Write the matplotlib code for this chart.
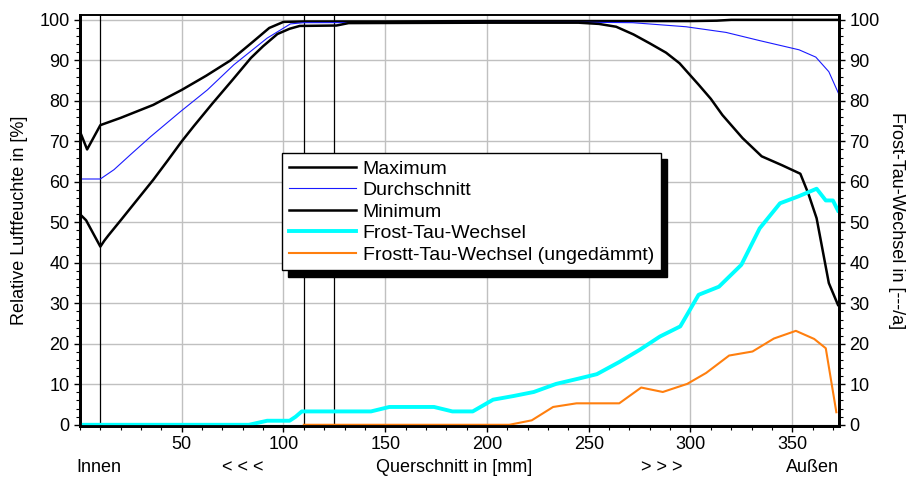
import matplotlib
matplotlib.use('Agg')
import matplotlib.pyplot as plt
from matplotlib.ticker import MultipleLocator

plt.rcParams['font.family'] = ['Liberation Sans', 'DejaVu Sans']

# Relative Luftfeuchte (linke Achse)
x_max = [0, 3.5, 10, 20, 36, 50, 62, 74, 85, 93, 100, 110, 150, 200, 250, 300, 313, 320, 373]
v_max = [72.4, 68, 74, 75.8, 79, 82.7, 86.2, 90, 94.6, 98, 99.5, 99.6, 99.6, 99.7, 99.7, 99.7, 99.8, 100, 100]

x_avg = [0, 10, 16.7, 25, 34.8, 49.5, 62.6, 75.6, 92, 103.4, 110, 250, 271.6, 297.8, 317.5,
         333.8, 353.4, 361.6, 368, 372.7]
v_avg = [60.7, 60.7, 63, 66.8, 71.2, 77.4, 82.7, 88.9, 95.5, 99, 99.3, 99.4, 99.3, 98.3, 96.9,
         94.9, 92.6, 90.8, 87.2, 81.9]

x_min = [0, 3, 10, 12, 14, 20, 28, 36, 43, 50, 56, 65, 75, 84, 90, 97, 103, 108, 126, 132, 200,
         245, 255, 263.5, 272, 280, 288, 294.6, 304, 310, 315.7, 325.6, 335, 345, 354, 358, 362,
         368, 372.5]
v_min = [52, 50.5, 44, 45.5, 46.8, 50.5, 55.5, 60.5, 65.2, 70, 73.8, 79.3, 85.2, 90.6, 93.5, 96.5,
         97.8, 98.5, 98.6, 99.2, 99.3, 99.3, 99.0, 98.3, 96.4, 94.2, 91.9, 89.3, 84, 80.5, 76.5,
         70.8, 66.3, 64.1, 62, 57, 51, 35, 29.6]

# Frost-Tau-Wechsel (rechte Achse)
x_ftw = [0, 83, 92, 103, 106, 109, 143, 152, 174, 183, 193, 203, 213, 223, 234, 245, 254, 265,
         275, 285, 295, 304, 314, 325, 334, 344, 353, 362, 366.5, 370, 372.5]
v_ftw = [0, 0, 1, 1, 2, 3.3, 3.3, 4.4, 4.4, 3.3, 3.3, 6.2, 7.1, 8.1, 10.1, 11.4, 12.5, 15.5,
         18.5, 21.8, 24.3, 32.1, 34.1, 39.5, 48.5, 54.7, 56.4, 58.3, 55.4, 55.4, 52.9]

x_ftw_u = [110, 211, 222, 232.5, 244, 265, 275.8, 286.4, 298.4, 307.7, 319, 330.5, 341, 351.8,
           360.8, 366.5, 371.7]
v_ftw_u = [0, 0, 1.1, 4.4, 5.3, 5.3, 9.2, 8.1, 10.1, 12.8, 17.1, 18.1, 21.3, 23.2, 21.2, 18.9, 3.1]

# Schichtgrenzen
layers = [10, 110, 125]

fig = plt.figure(figsize=(9.12, 4.82), dpi=100)
ax = fig.add_axes([80 / 912, 1 - 426 / 482, 759 / 912, 411 / 482])
ax2 = ax.twinx()

ax.set_xlim(0, 373)
ax.set_ylim(-0.3, 101.2)
ax2.set_ylim(-0.3, 101.2)

ax.grid(True, color='#c0c0c0', lw=1)
ax.set_axisbelow(True)

for xl in layers:
    ax.axvline(xl, color='black', lw=0.9, zorder=2)

l1, = ax.plot(x_max, v_max, color='black', lw=1.8, label='Maximum', zorder=3)
l2, = ax.plot(x_avg, v_avg, color='#1a1aff', lw=0.8, label='Durchschnitt', zorder=3)
l3, = ax.plot(x_min, v_min, color='black', lw=1.8, label='Minimum', zorder=3)
l4, = ax2.plot(x_ftw, v_ftw, color='#00ffff', lw=2.8, label='Frost-Tau-Wechsel')
l5, = ax2.plot(x_ftw_u, v_ftw_u, color='#ff7f0e', lw=1.5, label='Frostt-Tau-Wechsel (ungedämmt)')

ax.xaxis.set_major_locator(MultipleLocator(50))
ax.xaxis.set_minor_locator(MultipleLocator(10))
ax.yaxis.set_major_locator(MultipleLocator(10))
ax.yaxis.set_minor_locator(MultipleLocator(2))
ax2.yaxis.set_major_locator(MultipleLocator(10))
ax2.yaxis.set_minor_locator(MultipleLocator(2))
ax.set_xticks([50, 100, 150, 200, 250, 300, 350])

fs = 13
ax.tick_params(axis='both', which='major', labelsize=fs, length=4, width=1)
ax.tick_params(axis='both', which='minor', length=3, width=0.8)
ax.tick_params(axis='x', which='major', pad=3)
ax2.tick_params(axis='y', which='major', labelsize=fs, length=4, width=1)
ax2.tick_params(axis='y', which='minor', length=3, width=0.8)

for a in (ax, ax2):
    a.spines['left'].set_linewidth(2)
    a.spines['bottom'].set_linewidth(2)
    a.spines['right'].set_linewidth(2)
    a.spines['top'].set_linewidth(1.2)

ax.set_ylabel('Relative Luftfeuchte in [%]', fontsize=fs, labelpad=8)
ax2.set_ylabel('Frost-Tau-Wechsel in [---/a]', fontsize=fs, rotation=-90, labelpad=18)

tr = ax.get_xaxis_transform()
for xt, txt in [(9.5, 'Innen'), (80, '< < <'), (184, 'Querschnitt in [mm]'),
                (286, '> > >'), (360, 'Außen')]:
    ax.text(xt, -0.1, txt, transform=tr, ha='center', va='center', fontsize=fs)

leg = ax2.legend(handles=[l1, l2, l3, l4, l5], loc='upper left',
                 bbox_to_anchor=(0.266, 0.664), fontsize=14, frameon=True,
                 fancybox=False, edgecolor='black', framealpha=1,
                 handlelength=3.45, handletextpad=0.36, labelspacing=0.2,
                 borderpad=0.35, borderaxespad=0,
                 shadow={'ox': 4.5, 'oy': -4.5, 'color': 'black', 'alpha': 1})
leg.get_frame().set_linewidth(1)

fig.savefig('out.png', dpi=100)
